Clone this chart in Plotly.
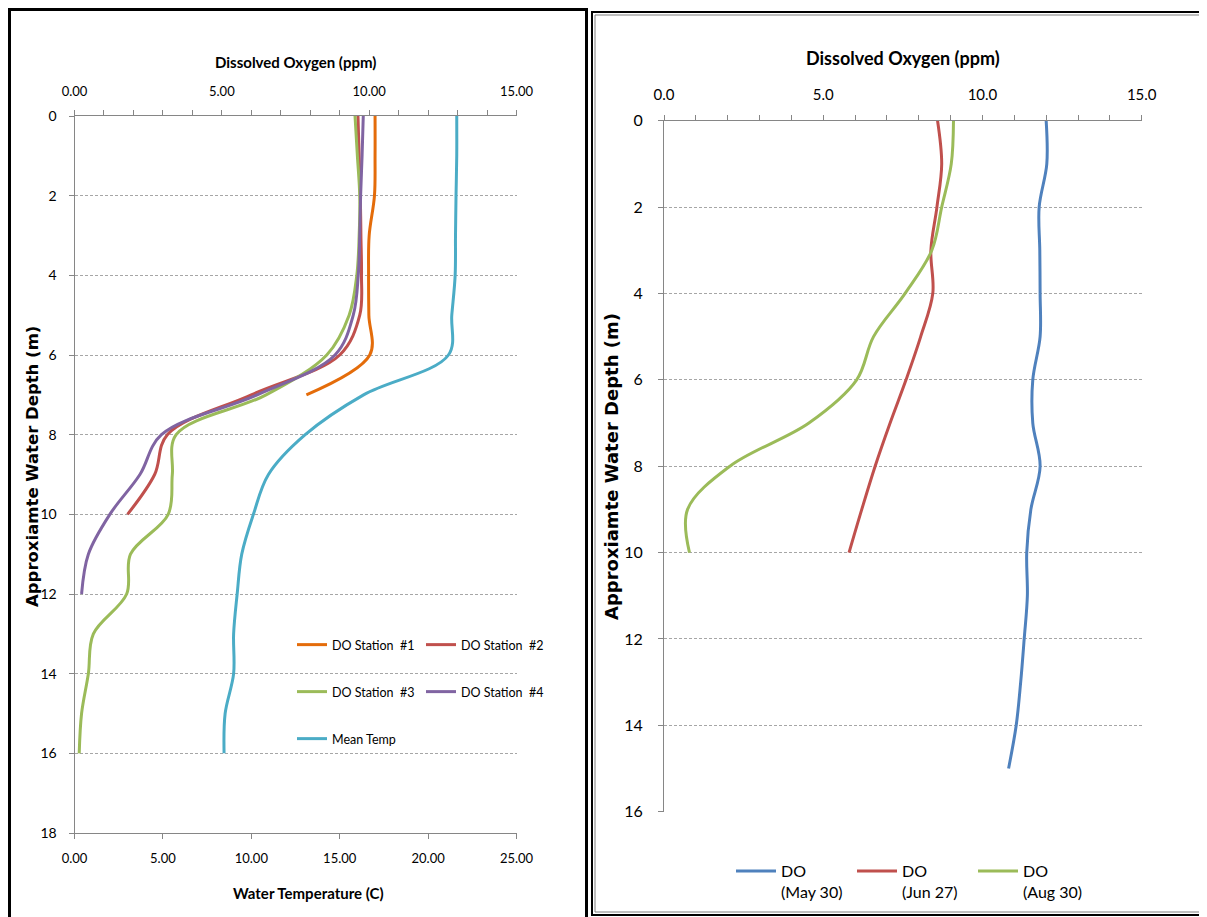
import plotly.graph_objects as go

W, H = 1207, 917

# ---------------- Left chart data ----------------
depth_st1 = [0, 1, 2, 3, 4, 5, 6, 7]
do_st1 = [10.2, 10.2, 10.18, 10.0, 9.98, 9.99, 10.02, 7.87]

depth_st2 = [0, 1, 2, 3, 4, 5, 6, 7, 8, 9, 10]
do_st2 = [9.62, 9.66, 9.7, 9.72, 9.74, 9.68, 9.0, 6.0, 3.15, 2.72, 1.8]

depth_st3 = [0, 1, 2, 3, 4, 5, 6, 7, 8, 9, 10, 11, 12, 13, 14, 15, 16]
do_st3 = [9.52, 9.6, 9.68, 9.66, 9.58, 9.32, 8.56, 6.5, 3.45, 3.32, 3.18,
          1.9, 1.77, 0.64, 0.47, 0.24, 0.16]

depth_st4 = [0, 1, 2, 3, 4, 5, 6, 7, 8, 9, 10, 11, 12]
do_st4 = [9.8, 9.76, 9.71, 9.68, 9.63, 9.46, 8.84, 6.2, 2.95, 2.22, 1.2, 0.47, 0.24]

depth_temp = [0, 1, 2, 3, 4, 5, 6, 7, 8, 9, 10, 11, 12, 13, 14, 15, 16]
mean_temp = [21.62, 21.62, 21.58, 21.55, 21.53, 21.34, 21.15, 16.35, 13.05,
             10.97, 10.12, 9.46, 9.2, 9.0, 9.0, 8.52, 8.46]

# ---------------- Right chart data ----------------
depth_may = [0, 1, 2, 3, 4, 5, 6, 7, 8, 9, 10, 11, 12, 13, 14, 15]
do_may = [12.0, 12.02, 11.78, 11.8, 11.81, 11.81, 11.58, 11.58, 11.81, 11.52,
          11.39, 11.41, 11.31, 11.2, 11.06, 10.82]

depth_jun = [0, 1, 2, 3, 4, 5, 6, 7, 8, 9, 10]
do_jun = [8.59, 8.72, 8.57, 8.38, 8.44, 8.06, 7.6, 7.1, 6.63, 6.21, 5.81]

depth_aug = [0, 1, 2, 3, 4, 5, 6, 7, 8, 9, 10]
do_aug = [9.09, 9.02, 8.72, 8.41, 7.57, 6.58, 6.05, 4.55, 2.07, 0.74, 0.8]

left_names = ["DO Station  #1", "DO Station  #2", "DO Station  #3", "DO Station  #4", "Mean Temp"]
right_names = ["DO<br>(May 30)", "DO<br>(Jun 27)", "DO<br>(Aug 30)"]

C_ORANGE = "#E46C0A"
C_RED = "#C0504D"
C_GREEN = "#9BBB59"
C_PURPLE = "#8064A2"
C_AQUA = "#4BACC6"
C_BLUE = "#4F81BD"

AX = "#868686"
GRID = "#A6A6A6"
FONT = "Lato, Open Sans, sans-serif"

OFF = 8  # page body margin


def px(x):
    return (x - OFF) / W


def py(y):
    return 1 - (y - OFF) / H


fig = go.Figure()

def add_line(x, y, name, color, xa, ya, legend):
    fig.add_trace(go.Scatter(
        x=x, y=y, name=name, mode="lines",
        line=dict(color=color, width=3, shape="spline", smoothing=1.0),
        xaxis=xa, yaxis=ya, legend=legend, hoverinfo="skip"))

add_line(do_st1, depth_st1, left_names[0], C_ORANGE, "x", "y", "legend")
add_line(do_st2, depth_st2, left_names[1], C_RED, "x", "y", "legend")
add_line(do_st3, depth_st3, left_names[2], C_GREEN, "x", "y", "legend2")
add_line(do_st4, depth_st4, left_names[3], C_PURPLE, "x", "y", "legend2")
add_line(mean_temp, depth_temp, left_names[4], C_AQUA, "x2", "y", "legend3")

add_line(do_may, depth_may, right_names[0], C_BLUE, "x3", "y2", "legend4")
add_line(do_jun, depth_jun, right_names[1], C_RED, "x3", "y2", "legend4")
add_line(do_aug, depth_aug, right_names[2], C_GREEN, "x3", "y2", "legend4")

L_dom = [px(74.5), px(516.5)]
L_ydom = [py(833), py(116)]
R_dom = [px(664), px(1141.7)]
R_ydom = [py(811.7), py(120.7)]

common_x = dict(showline=True, linecolor=AX, linewidth=1, ticks="outside", ticklen=5,
                tickcolor=AX, tickwidth=1, showgrid=False, zeroline=False,
                automargin=False, fixedrange=True)

layout = dict(
    width=W, height=H,
    margin=dict(l=0, r=0, t=0, b=0, autoexpand=False),
    paper_bgcolor="white", plot_bgcolor="white",
    font=dict(family=FONT, color="black"),
    xaxis=dict(domain=L_dom, anchor="y", side="top", range=[0, 15], tick0=0, dtick=5,
               tickformat=".2f", ticklabelstandoff=9,
               tickfont=dict(family=FONT, size=13, color="black"),
               minor=dict(dtick=1, ticks="outside", ticklen=5, tickcolor=AX), **common_x),
    xaxis2=dict(overlaying="x", anchor="y", side="bottom", range=[0, 25], tick0=0, dtick=5,
                tickformat=".2f", ticklabelstandoff=8,
                tickfont=dict(family=FONT, size=13, color="black"), **common_x),
    xaxis4=dict(overlaying="x", anchor="y", side="top", range=[0, 15], tick0=0, dtick=1,
                ticks="inside", ticklen=5, tickcolor=AX, showticklabels=False,
                showline=False, showgrid=False, zeroline=False, automargin=False),
    yaxis=dict(domain=L_ydom, anchor="x", range=[18, 0], tick0=0, dtick=2,
               showline=True, linecolor=AX, ticks="outside", ticklen=5, tickcolor=AX,
               showgrid=True, gridcolor=GRID, griddash="3px,2px", gridwidth=1,
               zeroline=False, ticklabelstandoff=9, automargin=False,
               tickfont=dict(family=FONT, size=14, color="black"), fixedrange=True),
    xaxis3=dict(domain=R_dom, anchor="y2", side="top", range=[0, 15], tick0=0, dtick=5,
                tickformat=".1f", ticklabelstandoff=9,
                tickfont=dict(family=FONT, size=15, color="black"),
                minor=dict(dtick=1, ticks="outside", ticklen=5, tickcolor=AX), **common_x),
    xaxis5=dict(overlaying="x3", anchor="y2", side="top", range=[0, 15], tick0=0, dtick=1,
                ticks="inside", ticklen=5, tickcolor=AX, showticklabels=False,
                showline=False, showgrid=False, zeroline=False, automargin=False),
    yaxis2=dict(domain=R_ydom, anchor="x3", range=[16, 0], tick0=0, dtick=2,
                showline=True, linecolor=AX, ticks="outside", ticklen=5, tickcolor=AX,
                showgrid=True, gridcolor=GRID, griddash="3px,2px", gridwidth=1,
                zeroline=False, ticklabelstandoff=12, automargin=False,
                tickfont=dict(family=FONT, size=16, color="black"), fixedrange=True),
    legend=dict(orientation="h", x=px(292), y=py(645), xanchor="left", yanchor="middle",
                entrywidth=84, entrywidthmode="pixels", bgcolor="rgba(0,0,0,0)",
                font=dict(family=FONT, size=12.5)),
    legend2=dict(orientation="h", x=px(292), y=py(692), xanchor="left", yanchor="middle",
                 entrywidth=84, entrywidthmode="pixels", bgcolor="rgba(0,0,0,0)",
                 font=dict(family=FONT, size=12.5)),
    legend3=dict(orientation="h", x=px(292), y=py(739), xanchor="left", yanchor="middle",
                 bgcolor="rgba(0,0,0,0)", font=dict(family=FONT, size=12.5)),
    legend4=dict(orientation="h", x=px(731), y=py(854), xanchor="left", yanchor="top",
                 entrywidth=66, entrywidthmode="pixels", valign="top", itemwidth=40,
                 bgcolor="rgba(0,0,0,0)", font=dict(family=FONT, size=16)),
    annotations=[
        dict(text="<b>Dissolved Oxygen (ppm)</b>", x=px(295.5), y=py(62), xref="paper",
             yref="paper", showarrow=False, font=dict(family=FONT, size=15),
             xanchor="center", yanchor="middle"),
        dict(text="<b>Water Temperature (C)</b>", x=px(308), y=py(893), xref="paper",
             yref="paper", showarrow=False, font=dict(family=FONT, size=15),
             xanchor="center", yanchor="middle"),
        dict(text="<b>Approxiamte Water Depth (m)</b>", x=px(32), y=py(467), xref="paper",
             yref="paper", showarrow=False, textangle=-90,
             font=dict(family="DejaVu Sans", size=16.5),
             xanchor="center", yanchor="middle"),
        dict(text="<b>Dissolved Oxygen (ppm)</b>", x=px(903), y=py(58), xref="paper",
             yref="paper", showarrow=False, font=dict(family=FONT, size=18),
             xanchor="center", yanchor="middle"),
        dict(text="<b>Approxiamte Water Depth (m)</b>", x=px(611), y=py(467), xref="paper",
             yref="paper", showarrow=False, textangle=-90,
             font=dict(family="DejaVu Sans", size=18),
             xanchor="center", yanchor="middle"),
    ],
    shapes=[
        dict(type="rect", xref="paper", yref="paper", x0=px(9.5), x1=px(586.5),
             y0=py(940), y1=py(9.5), line=dict(color="black", width=3)),
        dict(type="rect", xref="paper", yref="paper", x0=px(592), x1=px(1230),
             y0=py(915), y1=py(12), line=dict(color="black", width=2)),
        dict(type="rect", xref="paper", yref="paper", x0=px(595), x1=px(1230),
             y0=py(912), y1=py(15), line=dict(color="#7F7F7F", width=1)),
    ],
    showlegend=True,
)
fig.update_layout(**layout)

fig.write_html("out.html")
